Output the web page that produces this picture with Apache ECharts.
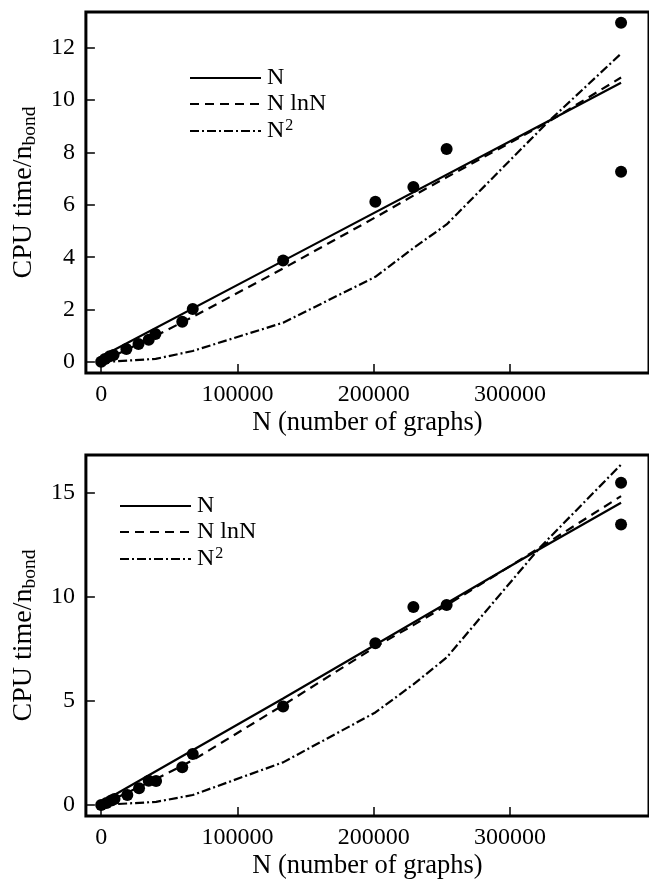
<!DOCTYPE html>
<html>
<head>
<meta charset="utf-8">
<script src="https://cdn.jsdelivr.net/npm/echarts@6/dist/echarts.min.js"></script>
<style>
  html, body { margin: 0; padding: 0; background: #fff; }
  #chart { width: 649px; height: 881px; }
</style>
</head>
<body>
<div id="chart"></div>
<script>
// tick labels
const xTicks = [0, 100000, 200000, 300000];
const yTicksTop = [0, 2, 4, 6, 8, 10, 12];
const yTicksBottom = [0, 5, 10, 15];

// top panel: measured points
const topPtsX = [0, 2800, 6300, 9100, 18500, 27400, 34900, 39800, 59500, 67200, 133500, 201200, 229100, 253500, 381500, 381500];
const topPtsY = [0.01, 0.11, 0.22, 0.27, 0.50, 0.69, 0.85, 1.07, 1.54, 2.02, 3.87, 6.12, 6.68, 8.13, 12.95, 7.26];
// top panel: fitted curves
const topNX = [0, 133500, 327600, 381500];
const topNY = [0.2, 3.86, 9.18, 10.66];
const topNlnNX = [0, 40000, 67200, 133500, 201200, 229100, 253500, 327600, 381500];
const topNlnNY = [0, 1.0, 1.72, 3.57, 5.52, 6.35, 7.05, 9.15, 10.86];
const topN2X = [0, 9100, 40000, 67200, 133500, 201200, 229100, 253500, 327600, 381500];
const topN2Y = [0, 0.02, 0.12, 0.42, 1.5, 3.25, 4.35, 5.25, 9.15, 11.77];

// bottom panel: measured points
const botPtsX = [0, 3900, 7400, 9800, 19200, 27800, 34900, 40300, 59500, 67200, 133500, 201200, 229100, 253500, 381500, 381500];
const botPtsY = [0.0, 0.1, 0.21, 0.29, 0.48, 0.80, 1.17, 1.15, 1.81, 2.45, 4.74, 7.78, 9.52, 9.62, 15.49, 13.49];
// bottom panel: fitted curves
const botNX = [0, 133500, 321800, 381500];
const botNY = [0.12, 5.12, 12.31, 14.53];
const botNlnNX = [0, 40300, 67200, 133500, 201200, 229100, 253500, 321800, 381500];
const botNlnNY = [0, 1.25, 2.15, 4.8, 7.6, 8.65, 9.6, 12.37, 14.85];
const botN2X = [0, 40300, 67200, 133500, 201200, 229100, 253500, 321800, 381500];
const botN2Y = [0, 0.15, 0.48, 2.05, 4.45, 5.8, 7.09, 12.37, 16.37];

const zip = (xs, ys) => xs.map((x, i) => [x, ys[i]]);

const FONT = "Liberation Serif";
const styleN = { color: "#000", width: 2.2, type: "solid" };
const styleNlnN = { color: "#000", width: 2.2, type: [9, 6] };
const styleN2 = { color: "#000", width: 2.2, type: [9, 3, 2, 3] };

function xAxis(gridIndex) {
  return {
    type: "value",
    gridIndex: gridIndex,
    min: -11200,
    max: 402000,
    splitLine: { show: false },
    axisLine: { show: false, onZero: false },
    axisTick: {
      show: true, inside: true, length: 9,
      lineStyle: { color: "#000", width: 1.5 },
      customValues: xTicks,
    },
    axisLabel: {
      color: "#000", fontFamily: FONT, fontSize: 24, margin: 10,
      customValues: xTicks,
      formatter: (v) => String(v),
    },
    name: "N (number of graphs)",
    nameLocation: "middle",
    nameGap: 37,
    nameTextStyle: { color: "#000", fontFamily: FONT, fontSize: 26.5 },
  };
}

function yAxis(gridIndex, min, max, ticks) {
  return {
    type: "value",
    gridIndex: gridIndex,
    min: min,
    max: max,
    splitLine: { show: false },
    axisLine: { show: false, onZero: false },
    axisTick: {
      show: true, inside: true, length: 9,
      lineStyle: { color: "#000", width: 1.5 },
      customValues: ticks,
    },
    axisLabel: {
      color: "#000", fontFamily: FONT, fontSize: 24, margin: 11,
      customValues: ticks,
    },
    name: "{a|CPU time/n}{b|bond}",
    nameLocation: "middle",
    nameRotate: 90,
    nameGap: 29,
    nameTextStyle: {
      rich: {
        a: { color: "#000", fontFamily: FONT, fontSize: 28, lineHeight: 30 },
        b: { color: "#000", fontFamily: FONT, fontSize: 19.5, lineHeight: 30, padding: [12, 0, 0, 0] },
      },
    },
  };
}

function legend(left, top) {
  return {
    data: ["N", "N lnN", "N2"],
    orient: "vertical",
    left: left,
    top: top,
    itemWidth: 71,
    itemHeight: 14,
    itemGap: 2,
    selectedMode: false,
    itemStyle: { opacity: 0 },
    formatter: (name) => (name === "N2" ? "{m|N}{s|2}" : "{m|" + name + "}"),
    textStyle: {
      padding: [0, 0, 0, 1],
      rich: {
        m: { color: "#000", fontFamily: FONT, fontSize: 24, lineHeight: 24 },
        s: { color: "#000", fontFamily: FONT, fontSize: 16, lineHeight: 24, padding: [0, 0, 10, 1] },
      },
    },
  };
}

function lines(idx, nX, nY, lX, lY, qX, qY, pX, pY) {
  return [
    { name: "N", type: "line", xAxisIndex: idx, yAxisIndex: idx, data: zip(nX, nY), symbol: "none", lineStyle: styleN, itemStyle: { color: "#000" } },
    { name: "N lnN", type: "line", xAxisIndex: idx, yAxisIndex: idx, data: zip(lX, lY), symbol: "none", lineStyle: styleNlnN, itemStyle: { color: "#000" } },
    { name: "N2", type: "line", xAxisIndex: idx, yAxisIndex: idx, data: zip(qX, qY), symbol: "none", lineStyle: styleN2, itemStyle: { color: "#000" } },
    { name: "data", type: "scatter", xAxisIndex: idx, yAxisIndex: idx, data: zip(pX, pY), symbolSize: 12, itemStyle: { color: "#000", opacity: 1 }, z: 5 },
  ];
}

const chart = echarts.init(document.getElementById("chart"), null, { renderer: "canvas" });
chart.setOption({
  animation: false,
  backgroundColor: "#fff",
  grid: [
    { left: 82, right: -12, top: 12, height: 361, show: true, borderColor: "#000", borderWidth: 3, backgroundColor: "transparent" },
    { left: 82, right: -12, top: 455, height: 362, show: true, borderColor: "#000", borderWidth: 3, backgroundColor: "transparent" },
  ],
  legend: [legend(184, 61), legend(114, 489)],
  xAxis: [xAxis(0), xAxis(1)],
  yAxis: [yAxis(0, -0.42, 13.36, yTicksTop), yAxis(1, -0.53, 16.83, yTicksBottom)],
  series: []
    .concat(lines(0, topNX, topNY, topNlnNX, topNlnNY, topN2X, topN2Y, topPtsX, topPtsY))
    .concat(lines(1, botNX, botNY, botNlnNX, botNlnNY, botN2X, botN2Y, botPtsX, botPtsY)),
});
</script>
</body>
</html>
